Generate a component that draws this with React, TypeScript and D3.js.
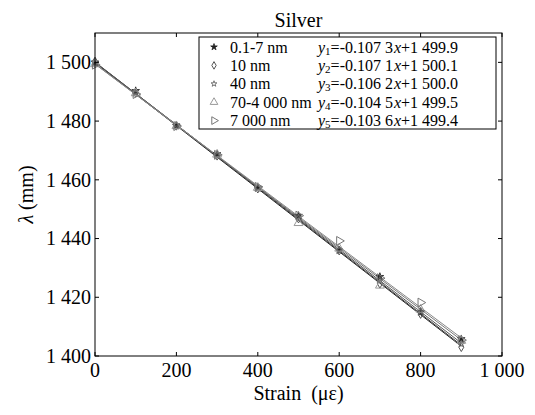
import React from 'react';
import * as d3 from 'd3';

const strain = [0, 100, 200, 300, 400, 500, 600, 700, 800, 900];
const seriesNames = ['0.1-7 nm', '10 nm', '40 nm', '70-4 000 nm', '7 000 nm'];
const s1 = [1500.0, 1490.3, 1478.4, 1468.8, 1457.2, 1447.8, 1436.0, 1427.0, 1415.0, 1405.8];
const s2 = [1500.3, 1489.6, 1478.4, 1468.2, 1457.0, 1446.8, 1435.9, 1424.6, 1414.3, 1403.0];
const s3 = [1500.0, 1489.5, 1478.8, 1468.3, 1457.3, 1447.0, 1436.1, 1425.9, 1415.2, 1404.1];
const s4 = [1499.4, 1489.5, 1478.3, 1468.6, 1457.3, 1445.3, 1436.6, 1424.0, 1415.8, 1405.2];
const s5 = [1499.2, 1489.2, 1478.3, 1468.5, 1457.6, 1447.8, 1439.2, 1426.5, 1418.2, 1405.4];
const slopeLabels = ['-0.107 3', '-0.107 1', '-0.106 2', '-0.104 5', '-0.103 6'];
const interceptLabels = ['1 499.9', '1 500.1', '1 500.0', '1 499.5', '1 499.4'];
const xTicks = [0, 200, 400, 600, 800, 1000];
const yTicks = [1400, 1420, 1440, 1460, 1480, 1500];

const allSeries = [s1, s2, s3, s4, s5];
const lineColors = ['#222', '#3a3a3a', '#555', '#777', '#888'];
const markColors = ['#222', '#555', '#666', '#999', '#777'];

const W = 535;
const H = 415;
const m = { left: 95, right: 502, top: 33, bottom: 356 };
const FONT = '"Liberation Serif", "Times New Roman", serif';

const fmt = d3.formatLocale({ decimal: '.', thousands: '\u2009', grouping: [3], currency: ['', ''] }).format(',');
const label = (v: number) => fmt(v).replace('\u2009', ' ');
const num = (s: string) => +s.replace(/ /g, '');

function Marker({ i, x, y, size = 1 }: { i: number; x: number; y: number; size?: number }) {
  const c = markColors[i];
  if (i === 0) {
    const p = d3.symbol(d3.symbolStar, 18 * size)();
    return <path d={p!} transform={`translate(${x},${y})`} fill={c} stroke={c} strokeWidth={0.8} />;
  }
  if (i === 1) {
    const p = d3.symbol(d3.symbolDiamond, 22 * size)();
    return <path d={p!} transform={`translate(${x},${y})`} fill="none" stroke={c} strokeWidth={1} />;
  }
  if (i === 2) {
    const p = d3.symbol(d3.symbolStar, 14 * size)();
    return <path d={p!} transform={`translate(${x},${y})`} fill="none" stroke={c} strokeWidth={0.9} />;
  }
  const p = d3.symbol(d3.symbolTriangle, 34 * size)();
  const rot = i === 4 ? 90 : 0;
  return <path d={p!} transform={`translate(${x},${y}) rotate(${rot})`} fill="none" stroke={c} strokeWidth={1} />;
}

export default function App() {
  const x = d3.scaleLinear().domain([0, 1000]).range([m.left, m.right]);
  const y = d3.scaleLinear().domain([1400, 1510]).range([m.bottom, m.top]);
  const fitLine = d3.line<number>().x((d) => x(d[0])).y((d) => y(d[1]));

  const legX = 199;
  const legY = 37;
  const rowH = 18.4;

  return (
    <svg width={W} height={H} style={{ position: 'absolute', left: 0, top: 0, background: '#fff' }} fontFamily={FONT}>
      <text x={(m.left + m.right) / 2} y={27} textAnchor="middle" fontSize={20}>Silver</text>

      {/* fitted lines */}
      {allSeries.map((_, i) => {
        const a = num(slopeLabels[i]);
        const b = num(interceptLabels[i]);
        const pts: any = [strain[0], strain[strain.length - 1]].map((s) => [s, a * s + b]);
        return <path key={'l' + i} d={fitLine(pts)!} fill="none" stroke={lineColors[i]} strokeWidth={1} />;
      })}

      {/* points */}
      {allSeries.map((vals, i) =>
        vals.map((v, j) => <Marker key={`p${i}-${j}`} i={i} x={x(strain[j])} y={y(v)} />)
      )}

      {/* frame and ticks */}
      <rect x={m.left} y={m.top} width={m.right - m.left} height={m.bottom - m.top} fill="none" stroke="#000" strokeWidth={1} />
      {xTicks.map((t) => (
        <g key={'x' + t}>
          <line x1={x(t)} x2={x(t)} y1={m.bottom} y2={m.bottom - 4} stroke="#000" />
          <line x1={x(t)} x2={x(t)} y1={m.top} y2={m.top + 4} stroke="#000" />
          <text x={x(t)} y={377} textAnchor="middle" fontSize={20}>{label(t)}</text>
        </g>
      ))}
      {yTicks.map((t) => (
        <g key={'y' + t}>
          <line x1={m.left} x2={m.left + 4} y1={y(t)} y2={y(t)} stroke="#000" />
          <line x1={m.right} x2={m.right - 4} y1={y(t)} y2={y(t)} stroke="#000" />
          <text x={91} y={y(t)} dy="0.34em" textAnchor="end" fontSize={20}>{label(t)}</text>
        </g>
      ))}

      <text x={(m.left + m.right) / 2} y={400} textAnchor="middle" fontSize={20} xmlSpace="preserve">
        Strain  (με)
      </text>
      <text transform={`translate(33,${(m.top + m.bottom) / 2}) rotate(-90)`} textAnchor="middle" fontSize={20} xmlSpace="preserve">
        <tspan fontStyle="italic">λ</tspan> (mm)
      </text>

      {/* legend */}
      <rect x={legX} y={legY} width={297} height={92} fill="#fff" stroke="#000" strokeWidth={1} />
      {seriesNames.map((n, i) => {
        const cy = legY + 10 + i * rowH;
        return (
          <g key={'g' + i}>
            <Marker i={i} x={214} y={cy} size={0.75} />
            <text x={230} y={cy} dy="0.35em" fontSize={16}>{n}</text>
            <text x={318} y={cy} dy="0.35em" fontSize={16}>
              <tspan fontStyle="italic">y</tspan>
              <tspan fontSize={11} dy="2">{i + 1}</tspan>
              <tspan dy="-2">={slopeLabels[i]}</tspan>
              <tspan fontStyle="italic" dx="1">x</tspan>
              <tspan>+{interceptLabels[i]}</tspan>
            </text>
          </g>
        );
      })}
    </svg>
  );
}
